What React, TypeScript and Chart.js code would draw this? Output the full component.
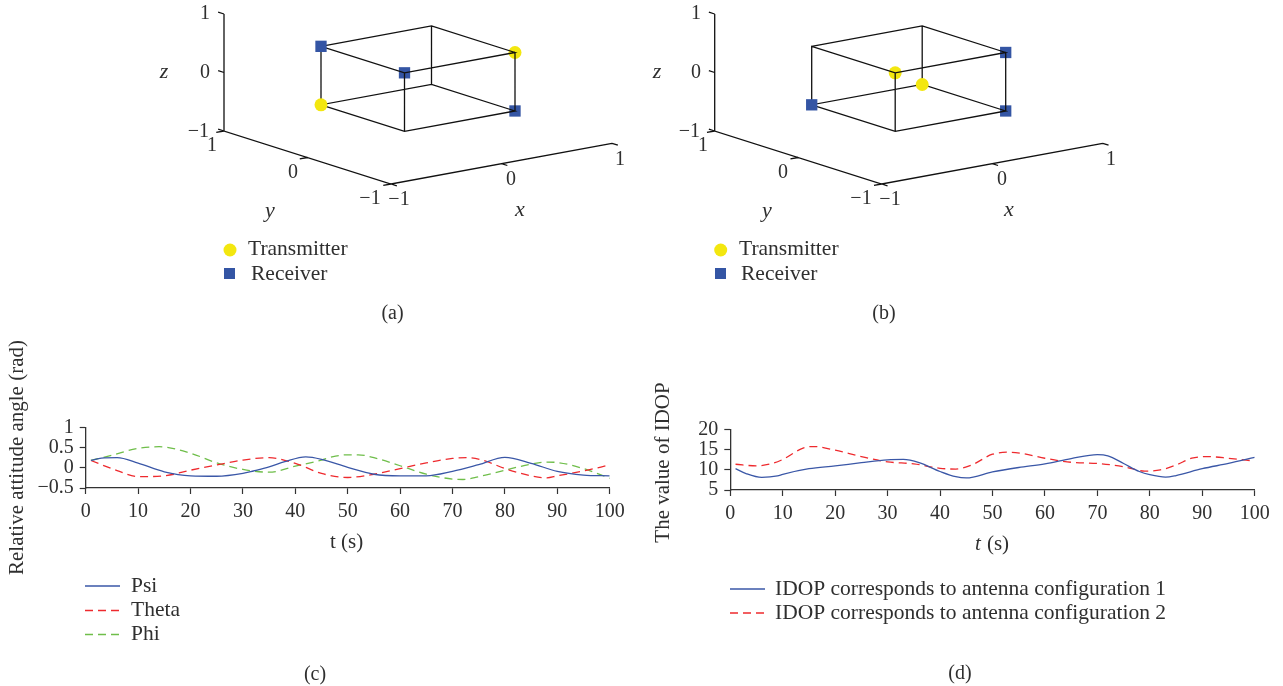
import React, { useEffect, useRef } from "react";
import { Chart, registerables } from "chart.js";

Chart.register(...registerables);

const FONT = '"Liberation Serif", serif';
const INK = "#2f2f2f";
const BLUE = "#3a57a7";
const RED = "#ee2a2e";
const GREEN = "#6fbe4a";
const YELLOW = "#f3e70f";
const SQUARE = "#3455a4";

// ---- 3D geometry, in axis units
const axisRange = [-1, 0, 1];
const boxLow = -0.5;
const boxHigh = 0.5;
const boxEdges: number[][][] = [
  [[boxLow, boxHigh, boxHigh], [boxHigh, boxHigh, boxHigh], [boxHigh, boxLow, boxHigh], [boxLow, boxLow, boxHigh], [boxLow, boxHigh, boxHigh], [boxLow, boxHigh, boxLow], [boxHigh, boxHigh, boxLow], [boxHigh, boxLow, boxLow], [boxLow, boxLow, boxLow], [boxLow, boxHigh, boxLow]],
  [[boxHigh, boxHigh, boxHigh], [boxHigh, boxHigh, boxLow]],
  [[boxHigh, boxLow, boxHigh], [boxHigh, boxLow, boxLow]],
  [[boxLow, boxLow, boxHigh], [boxLow, boxLow, boxLow]],
];

const transmittersUnderA = [[-0.5, 0.5, -0.5]];
const transmittersOverA = [[0.5, -0.5, 0.5]];
const receiversUnderA = [[-0.5, 0.5, 0.5]];
const receiversOverA = [[-0.5, -0.5, 0.5], [0.5, -0.5, -0.5]];

const transmittersUnderB = [[0.5, 0.5, -0.5]];
const transmittersOverB = [[-0.5, -0.5, 0.5]];
const receiversUnderB = [[-0.5, 0.5, -0.5]];
const receiversOverB = [[0.5, -0.5, 0.5], [0.5, -0.5, -0.5]];

// ---- Attitude angles (c)
const psiT = [1, 3, 6, 10, 15, 20, 25, 30, 32, 35, 38, 42, 45, 50, 55, 60, 65, 70, 75, 80, 85, 90, 95, 100];
const psiV = [0.18, 0.24, 0.25, 0.115, -0.1, -0.2, -0.21, -0.14, -0.08, 0.02, 0.15, 0.27, 0.21, 0.01, -0.16, -0.2, -0.2, -0.09, 0.075, 0.255, 0.11, -0.09, -0.18, -0.2];
const thetaT = [1, 6, 10, 15, 20, 25, 30, 35, 40, 45, 50, 55, 60, 65, 70, 73, 76, 80, 85, 88, 90, 95, 100];
const thetaV = [0.18, -0.07, -0.22, -0.2, -0.06, 0.07, 0.19, 0.25, 0.11, -0.14, -0.24, -0.16, -0.02, 0.12, 0.23, 0.25, 0.18, -0.02, -0.2, -0.25, -0.2, -0.08, 0.07];
const phiT = [1, 5, 10, 14, 20, 25, 30, 35, 40, 45, 47, 50, 52, 55, 60, 65, 70, 72, 75, 80, 85, 88, 90, 95, 100];
const phiV = [0.18, 0.31, 0.48, 0.52, 0.36, 0.12, -0.04, -0.11, 0.04, 0.19, 0.27, 0.32, 0.32, 0.25, 0.05, -0.16, -0.28, -0.29, -0.22, -0.06, 0.09, 0.14, 0.13, -0.02, -0.26];

// ---- IDOP (d)
const idop1T = [1, 3, 6, 9, 10, 15, 20, 25, 30, 33, 36, 40, 43, 45, 50, 55, 60, 65, 70, 72, 75, 78, 80, 83, 85, 90, 95, 100];
const idop1V = [10.3, 9.1, 8.15, 8.5, 8.9, 10.3, 11, 11.8, 12.5, 12.6, 11.8, 9.6, 8.3, 8, 9.5, 10.6, 11.5, 12.8, 13.8, 13.5, 11.6, 9.6, 8.8, 8.2, 8.6, 10.3, 11.6, 13.1];
const idop2T = [1, 5, 8, 10, 14, 16, 20, 25, 30, 35, 40, 43, 46, 50, 53, 56, 60, 65, 70, 75, 79, 82, 85, 88, 91, 95, 100];
const idop2V = [11.4, 11, 11.6, 12.6, 15.5, 15.8, 14.9, 13.3, 12, 11.5, 10.4, 10.2, 11.2, 13.9, 14.4, 14, 12.9, 11.9, 11.6, 10.8, 9.7, 10, 11.2, 12.9, 13.3, 12.9, 12.2];

const xTickValues = [0, 10, 20, 30, 40, 50, 60, 70, 80, 90, 100];
const attitudeRange = [-0.5, 1];
const idopRange = [5, 20];
const legend3D = ["Transmitter", "Receiver"];

type Txt = { t: string; x: number; y: number; a?: CanvasTextAlign; size?: number; italic?: boolean; vertical?: boolean };
type LineKey = { label: string; x0: number; x1: number; y: number; tx: number };
type MarkKey = { shape: "circle" | "square"; x: number; y: number };
type Rect = { left: number; top: number; width: number; height: number };

const BASE_NUDGE = 1.5;

const pageText = {
  id: "pageText",
  afterDatasetsDraw(chart: any, _a: any, o: any) {
    const { ctx } = chart;
    const r: Rect = o.rect;
    ctx.save();
    ctx.textBaseline = "middle";
    ctx.fillStyle = INK;
    (o.texts as Txt[]).forEach((it) => {
      ctx.font = `${it.italic ? "italic " : ""}${it.size ?? 20}px ${FONT}`;
      ctx.textAlign = it.a ?? "center";
      if (it.vertical) {
        ctx.save();
        ctx.translate(it.x - r.left, it.y - r.top);
        ctx.rotate(-Math.PI / 2);
        ctx.fillText(it.t, 0, 0);
        ctx.restore();
      } else {
        ctx.fillText(it.t, it.x - r.left, it.y + BASE_NUDGE - r.top);
      }
    });
    (o.lineKeys as LineKey[] | undefined)?.forEach((k) => {
      const ds = chart.data.datasets.find((d: any) => d.label === k.label);
      ctx.save();
      ctx.strokeStyle = ds.borderColor;
      ctx.lineWidth = ds.borderWidth;
      ctx.setLineDash(ds.borderDash ?? []);
      ctx.beginPath();
      ctx.moveTo(k.x0 - r.left, k.y - r.top);
      ctx.lineTo(k.x1 - r.left, k.y - r.top);
      ctx.stroke();
      ctx.restore();
      ctx.font = `21.5px ${FONT}`;
      ctx.textAlign = "left";
      ctx.fillStyle = INK;
      ctx.fillText(k.label, k.tx - r.left, k.y - r.top);
    });
    (o.markKeys as MarkKey[] | undefined)?.forEach((k) => {
      if (k.shape === "circle") {
        ctx.fillStyle = YELLOW;
        ctx.beginPath();
        ctx.arc(k.x - r.left, k.y - r.top, 6.5, 0, Math.PI * 2);
        ctx.fill();
      } else {
        ctx.fillStyle = SQUARE;
        ctx.fillRect(k.x - 5.5 - r.left, k.y - 5.5 - r.top, 11, 11);
      }
    });
    ctx.restore();
  },
};

const proj = ([x, y, z]: number[]) => ({
  x: 110.5 * x - 83.5 * y,
  y: 20.35 * x + 26.5 * y + 58.5 * z,
});
const GAP = { x: NaN, y: NaN };

function polyline(paths: number[][][]) {
  const out: { x: number; y: number }[] = [];
  paths.forEach((p, i) => {
    if (i) out.push(GAP);
    p.forEach((q) => out.push(proj(q)));
  });
  return out;
}

const TICK = 0.07;
function axesPaths() {
  const [lo, , hi] = axisRange;
  const paths: number[][][] = [
    [[lo, hi, hi], [lo, hi, lo], [lo, lo, lo], [hi, lo, lo]],
  ];
  axisRange.forEach((v) => {
    paths.push([[lo, hi, v], [lo, hi + TICK, v]]);
    paths.push([[lo, v, lo], [lo - TICK, v, lo]]);
    paths.push([[v, lo, lo], [v, lo - TICK, lo]]);
  });
  return paths;
}

function cubeChart(
  canvas: HTMLCanvasElement,
  rect: Rect,
  cx: number,
  cy: number,
  m: { tu: number[][]; to: number[][]; ru: number[][]; ro: number[][] },
  texts: Txt[],
  markKeys: MarkKey[],
) {
  const lineSet = (label: string, paths: number[][][]) => ({
    label, data: polyline(paths), showLine: true, spanGaps: false, borderColor: "#111", borderWidth: 1.3, pointRadius: 0,
  });
  const dots = (label: string, pts: number[][], shape: string, color: string) => ({
    label, data: pts.map(proj), showLine: false, pointStyle: shape, pointRadius: shape === "rect" ? 8 : 6.5,
    pointBackgroundColor: color, pointBorderWidth: 0, backgroundColor: color,
  });
  return new Chart(canvas, {
    type: "scatter",
    data: {
      datasets: [
        lineSet("Axes", axesPaths()),
        dots("Transmitter (front)", m.tu, "circle", YELLOW),
        dots("Receiver (front)", m.ru, "rect", SQUARE),
        lineSet("Box", boxEdges),
        dots("Transmitter", m.to, "circle", YELLOW),
        dots("Receiver", m.ro, "rect", SQUARE),
      ] as any,
    },
    options: {
      animation: false,
      responsive: false,
      devicePixelRatio: 1,
      layout: { padding: 0, autoPadding: false },
      scales: {
        x: { type: "linear", display: false, min: rect.left - cx, max: rect.left + rect.width - cx },
        y: { type: "linear", display: false, min: cy - rect.top - rect.height, max: cy - rect.top },
      },
      plugins: { legend: { display: false }, tooltip: { enabled: false }, pageText: { rect, texts, markKeys } } as any,
    },
    plugins: [pageText],
  });
}

function lineChart(
  canvas: HTMLCanvasElement,
  rect: Rect,
  area: { left: number; right: number; top: number; bottom: number },
  series: { label: string; t: number[]; v: number[]; color: string; dash?: number[] }[],
  yRange: number[],
  yStep: number,
  texts: Txt[],
  lineKeys: LineKey[],
) {
  const tickFont = { family: FONT, size: 20, lineHeight: 1.2 };
  const bottomBlock = 44;
  return new Chart(canvas, {
    type: "line",
    data: {
      datasets: series.map((s) => ({
        label: s.label,
        data: s.t.map((x, i) => ({ x, y: s.v[i] })),
        borderColor: s.color,
        borderWidth: 1.3,
        borderDash: s.dash ?? [],
        pointRadius: 0,
        cubicInterpolationMode: "monotone",
        fill: false,
      })) as any,
    },
    options: {
      animation: false,
      responsive: false,
      devicePixelRatio: 1,
      layout: {
        autoPadding: false,
        padding: {
          top: area.top - rect.top,
          left: 0,
          right: rect.left + rect.width - area.right,
          bottom: rect.top + rect.height - area.bottom - bottomBlock,
        },
      },
      scales: {
        x: {
          type: "linear",
          min: xTickValues[0],
          max: xTickValues[xTickValues.length - 1],
          afterFit: (s: any) => { s.height = bottomBlock; },
          afterBuildTicks: (s: any) => { s.ticks = xTickValues.map((value) => ({ value })); },
          border: { color: "#333", width: 1.3 },
          grid: { drawOnChartArea: false, tickLength: 6, tickColor: "#333", tickWidth: 1.2 },
          ticks: { color: INK, font: tickFont, padding: 6, maxRotation: 0, autoSkip: false },
        },
        y: {
          type: "linear",
          min: yRange[0],
          max: yRange[1],
          afterFit: (s: any) => { s.width = area.left - rect.left; },
          border: { color: "#333", width: 1.3 },
          grid: { drawOnChartArea: false, tickLength: 6, tickColor: "#333", tickWidth: 1.2 },
          ticks: {
            color: INK, font: tickFont, padding: 6, stepSize: yStep, autoSkip: false,
            callback: (v: any) => String(v).replace("-", "\u2212"),
          },
        },
      },
      plugins: { legend: { display: false }, tooltip: { enabled: false }, pageText: { rect, texts, lineKeys } } as any,
    },
    plugins: [pageText],
  });
}

const rects: Rect[] = [
  { left: 150, top: 0, width: 490, height: 330 },
  { left: 640, top: 0, width: 490, height: 330 },
  { left: 0, top: 330, width: 640, height: 356 },
  { left: 640, top: 330, width: 643, height: 356 },
];

const textsA: Txt[] = [
  { t: "1", x: 205, y: 12 }, { t: "0", x: 205, y: 71 }, { t: "\u22121", x: 209, y: 130, a: "right" },
  { t: "z", x: 164, y: 71, italic: true, size: 22 },
  { t: "1", x: 212, y: 144 }, { t: "0", x: 293, y: 171 }, { t: "\u22121", x: 370, y: 197 },
  { t: "y", x: 270, y: 210, italic: true, size: 22 },
  { t: "\u22121", x: 399, y: 198 }, { t: "0", x: 511, y: 178 }, { t: "1", x: 620, y: 158 },
  { t: "x", x: 520, y: 209, italic: true, size: 22 },
  { t: legend3D[0], x: 248, y: 248, a: "left", size: 21.5 }, { t: legend3D[1], x: 251, y: 273, a: "left", size: 21.5 },
  { t: "(a)", x: 392.5, y: 312 },
];
const textsB: Txt[] = [
  { t: "1", x: 696, y: 12 }, { t: "0", x: 696, y: 71 }, { t: "\u22121", x: 700, y: 130, a: "right" },
  { t: "z", x: 657, y: 71, italic: true, size: 22 },
  { t: "1", x: 703, y: 144 }, { t: "0", x: 783, y: 171 }, { t: "\u22121", x: 861, y: 197 },
  { t: "y", x: 767, y: 210, italic: true, size: 22 },
  { t: "\u22121", x: 890, y: 198 }, { t: "0", x: 1002, y: 178 }, { t: "1", x: 1111, y: 158 },
  { t: "x", x: 1009, y: 209, italic: true, size: 22 },
  { t: legend3D[0], x: 739, y: 248, a: "left", size: 21.5 }, { t: legend3D[1], x: 741, y: 273, a: "left", size: 21.5 },
  { t: "(b)", x: 884, y: 312 },
];
const textsC: Txt[] = [
  { t: "Relative attitude angle (rad)", x: 17, y: 457.5, size: 21, vertical: true },
  { t: "t (s)", x: 346.5, y: 541, size: 21 },
  { t: "(c)", x: 315, y: 673 },
];
const textsD: Txt[] = [
  { t: "The value of IDOP", x: 663, y: 462.5, size: 21, vertical: true },
  { t: "t", x: 978, y: 543, italic: true, size: 21 },
  { t: "(s)", x: 998, y: 543, size: 21 },
  { t: "(d)", x: 960, y: 672 },
];

export default function App() {
  const a = useRef<HTMLCanvasElement>(null);
  const b = useRef<HTMLCanvasElement>(null);
  const c = useRef<HTMLCanvasElement>(null);
  const d = useRef<HTMLCanvasElement>(null);

  useEffect(() => {
    const charts = [
      cubeChart(a.current!, rects[0], 418, 78.65,
        { tu: transmittersUnderA, to: transmittersOverA, ru: receiversUnderA, ro: receiversOverA },
        textsA, [{ shape: "circle", x: 230, y: 250 }, { shape: "square", x: 229.5, y: 273.5 }]),
      cubeChart(b.current!, rects[1], 908.7, 78.65,
        { tu: transmittersUnderB, to: transmittersOverB, ru: receiversUnderB, ro: receiversOverB },
        textsB, [{ shape: "circle", x: 720.7, y: 250 }, { shape: "square", x: 720.5, y: 273.5 }]),
      lineChart(c.current!, rects[2], { left: 85.7, right: 609.7, top: 427.3, bottom: 488 },
        [
          { label: "Psi", t: psiT, v: psiV, color: BLUE },
          { label: "Theta", t: thetaT, v: thetaV, color: RED, dash: [8, 5] },
          { label: "Phi", t: phiT, v: phiV, color: GREEN, dash: [8, 5] },
        ],
        attitudeRange, 0.5, textsC,
        [
          { label: "Psi", x0: 85, x1: 120, y: 586, tx: 131 },
          { label: "Theta", x0: 85, x1: 120, y: 610.5, tx: 131 },
          { label: "Phi", x0: 85, x1: 120, y: 634.5, tx: 131 },
        ]),
      lineChart(d.current!, rects[3], { left: 730.3, right: 1254.7, top: 429.7, bottom: 490 },
        [
          { label: "IDOP corresponds to antenna configuration 1", t: idop1T, v: idop1V, color: BLUE },
          { label: "IDOP corresponds to antenna configuration 2", t: idop2T, v: idop2V, color: RED, dash: [8, 5] },
        ],
        idopRange, 5, textsD,
        [
          { label: "IDOP corresponds to antenna configuration 1", x0: 730, x1: 765, y: 589, tx: 775 },
          { label: "IDOP corresponds to antenna configuration 2", x0: 730, x1: 765, y: 613, tx: 775 },
        ]),
    ];
    return () => charts.forEach((ch) => ch.destroy());
  }, []);

  const refs = [a, b, c, d];
  return (
    <div style={{ position: "absolute", left: 0, top: 0, width: 1283, height: 686, background: "#fff", overflow: "hidden" }}>
      {refs.map((r, i) => (
        <canvas
          key={i}
          ref={r}
          width={rects[i].width}
          height={rects[i].height}
          style={{ position: "absolute", left: rects[i].left, top: rects[i].top, width: rects[i].width, height: rects[i].height }}
        />
      ))}
    </div>
  );
}
